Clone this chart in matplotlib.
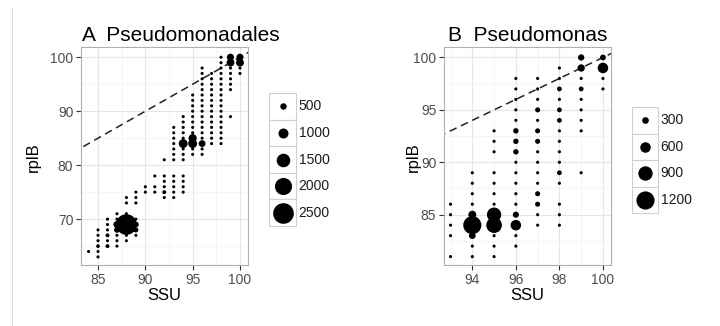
import matplotlib
matplotlib.use('Agg')
import matplotlib.pyplot as plt
from matplotlib.lines import Line2D
from matplotlib.patches import Rectangle

plt.rcParams['font.family'] = ['Liberation Sans', 'DejaVu Sans']

# ---------------- data ----------------
# Panel A: Pseudomonadales  (SSU column -> rplB values present)
a_columns = {
    84: [64],
    85: [63, 64, 65, 66, 67, 68],
    86: [65, 66, 67, 68, 69, 70],
    87: [65, 66, 67, 68, 69, 70, 71],
    88: [66, 67, 68, 69, 70, 71, 73, 74],
    89: [67, 68, 69, 70, 73, 74, 75],
    90: [75, 76],
    91: [75, 76, 78],
    92: [74, 75, 76, 77, 78, 81],
    93: [74, 75, 76, 77, 78, 81, 82, 83, 84, 85, 86, 87],
    94: [75, 76, 77, 78, 81, 82, 83, 84, 85, 86, 87, 88, 89],
    95: [82, 83, 84, 85, 86, 87, 88, 89, 90, 91, 92, 93],
    96: [82, 83, 84, 85, 86, 87, 88, 89, 90, 91, 92, 93, 94, 95, 96, 97, 98],
    97: [84, 85, 86, 87, 88, 89, 90, 91, 92, 93, 94, 95, 96, 97],
    98: [84, 85, 86, 87, 88, 89, 90, 91, 92, 93, 94, 95, 96, 97, 98, 99, 100],
    99: [89, 94, 95, 96, 97, 98, 99, 100],
    100: [97, 98, 99, 100],
}
a_counts = {
    (88, 69): 2500, (88, 68): 800, (87, 69): 600, (88, 70): 600,
    (89, 69): 400, (87, 68): 400, (89, 68): 300,
    (86, 67): 150, (86, 65): 150, (85, 65): 120, (92, 75): 150,
    (94, 84): 850, (95, 84): 850, (95, 85): 750, (96, 84): 550,
    (99, 99): 700, (99, 100): 600, (100, 99): 700, (100, 100): 600,
}
a_default = 30
a_breaks = [500, 1000, 1500, 2000, 2500]

# Panel B: Pseudomonas
b_columns = {
    93: [81, 83, 84, 85, 86],
    94: [81, 82, 83, 84, 85, 86, 87, 88, 89],
    95: [81, 82, 83, 84, 85, 86, 87, 88, 89, 91, 92, 93],
    96: [82, 83, 84, 85, 86, 87, 88, 89, 90, 91, 92, 93, 94, 95, 96, 97, 98],
    97: [84, 85, 86, 87, 88, 89, 90, 91, 92, 93, 94, 95, 96, 97, 98],
    98: [84, 85, 86, 88, 89, 90, 91, 92, 93, 94, 95, 96, 97, 98, 99],
    99: [89, 93, 94, 95, 96, 97, 98, 99, 100],
    100: [97, 98, 99, 100],
}
b_counts = {
    (94, 84): 1200, (94, 85): 400, (94, 83): 300,
    (95, 85): 900, (95, 84): 1000,
    (96, 84): 600, (96, 85): 250,
    (96, 93): 200, (96, 92): 200, (96, 91): 200,
    (97, 95): 170, (97, 93): 170, (97, 92): 170, (97, 87): 170, (97, 86): 170,
    (98, 97): 150, (98, 95): 150, (98, 94): 150, (98, 89): 150,
    (99, 100): 270, (99, 99): 350, (99, 97): 150,
    (100, 100): 230, (100, 99): 600,
}
b_default = 20
b_breaks = [300, 600, 900, 1200]

DPI = 100
W, H = 720, 326


def expand(cols, counts, default):
    xs, ys, ns = [], [], []
    for x, ylist in cols.items():
        for y in ylist:
            xs.append(x)
            ys.append(y)
            ns.append(counts.get((x, y), default))
    return xs, ys, ns


def area(n, slope):
    d_px = 2.9 + slope * n
    d_pt = d_px * 72.0 / DPI
    return d_pt ** 2


def fax(l, t, r, b):
    return [l / W, (H - b) / H, (r - l) / W, (b - t) / H]


fig = plt.figure(figsize=(W / DPI, H / DPI), dpi=DPI)
fig.patch.set_facecolor('white')

# faint separator line at left
fig.add_artist(Line2D([12 / W, 12 / W], [0, (H - 8) / H], transform=fig.transFigure,
                      color='#DDDDDD', lw=0.8))


def setup(ax, xlim, ylim, xmaj, ymaj, xmin, ymin):
    ax.set_xlim(xlim)
    ax.set_ylim(ylim)
    ax.set_xticks(xmaj)
    ax.set_yticks(ymaj)
    ax.set_xticks(xmin, minor=True)
    ax.set_yticks(ymin, minor=True)
    ax.grid(which='major', color='#E6E6E6', lw=0.8)
    ax.grid(which='minor', color='#F4F4F4', lw=0.6)
    ax.tick_params(which='minor', length=0)
    ax.tick_params(which='major', length=3.5, width=0.8, color='#333333',
                   labelcolor='#4D4D4D', labelsize=10, pad=2)
    ax.set_axisbelow(True)
    for sp in ax.spines.values():
        sp.set_color('#B0B0B0')
        sp.set_linewidth(0.8)


def legend(rect, breaks, slope):
    lax = fig.add_axes(rect)
    nb = len(breaks)
    lax.set_xlim(0, 1)
    lax.set_ylim(0, nb)
    lax.axis('off')
    for k, v in enumerate(breaks):
        i = nb - 1 - k
        lax.add_patch(Rectangle((0, i), 1, 1, facecolor='white', edgecolor='#D0D0D0',
                                lw=0.8, clip_on=False))
        lax.scatter([0.5], [i + 0.5], s=area(v, slope), color='black', lw=0, clip_on=False)
        lax.text(1.1, i + 0.5, str(v), va='center', ha='left', fontsize=10, color='#1a1a1a')


# ---------------- Panel A ----------------
axA = fig.add_axes(fax(81, 47, 248, 265))
setup(axA, (83.2, 100.85), (61.5, 101.9), [85, 90, 95, 100], [70, 80, 90, 100],
      [87.5, 92.5, 97.5], [65, 75, 85, 95])
axA.plot([80, 103], [80, 103], ls=(0, (5, 3.2)), color='#222222', lw=1.1, zorder=2)
xa, ya, na = expand(a_columns, a_counts, a_default)
axA.scatter(xa, ya, s=[area(n, 0.0071) for n in na], color='black', lw=0, zorder=3)
legend(fax(269, 93, 296, 226), a_breaks, 0.0071)

fig.text(181 / W, (H - 41) / H, 'A  Pseudomonadales', fontsize=15, ha='center', va='baseline')
fig.text(164.5 / W, (H - 295) / H, 'SSU', fontsize=12, ha='center', va='center')
fig.text(33 / W, (H - 157) / H, 'rplB', fontsize=12, ha='center', va='center', rotation=90)

# ---------------- Panel B ----------------
axB = fig.add_axes(fax(444, 47, 611, 265))
setup(axB, (92.7, 100.37), (80.2, 101.0), [94, 96, 98, 100], [85, 90, 95, 100],
      [93, 95, 97, 99], [82.5, 87.5, 92.5, 97.5])
axB.plot([80, 103], [80, 103], ls=(0, (5, 3.2)), color='#222222', lw=1.1, zorder=2)
xb, yb, nb_ = expand(b_columns, b_counts, b_default)
axB.scatter(xb, yb, s=[area(n, 0.0127) for n in nb_], color='black', lw=0, zorder=3)
legend(fax(632, 107, 658, 213), b_breaks, 0.0127)

fig.text(528 / W, (H - 41) / H, 'B  Pseudomonas', fontsize=15, ha='center', va='baseline')
fig.text(527.5 / W, (H - 295) / H, 'SSU', fontsize=12, ha='center', va='center')
fig.text(413 / W, (H - 157) / H, 'rplB', fontsize=12, ha='center', va='center', rotation=90)

fig.savefig('out.png', dpi=DPI)
